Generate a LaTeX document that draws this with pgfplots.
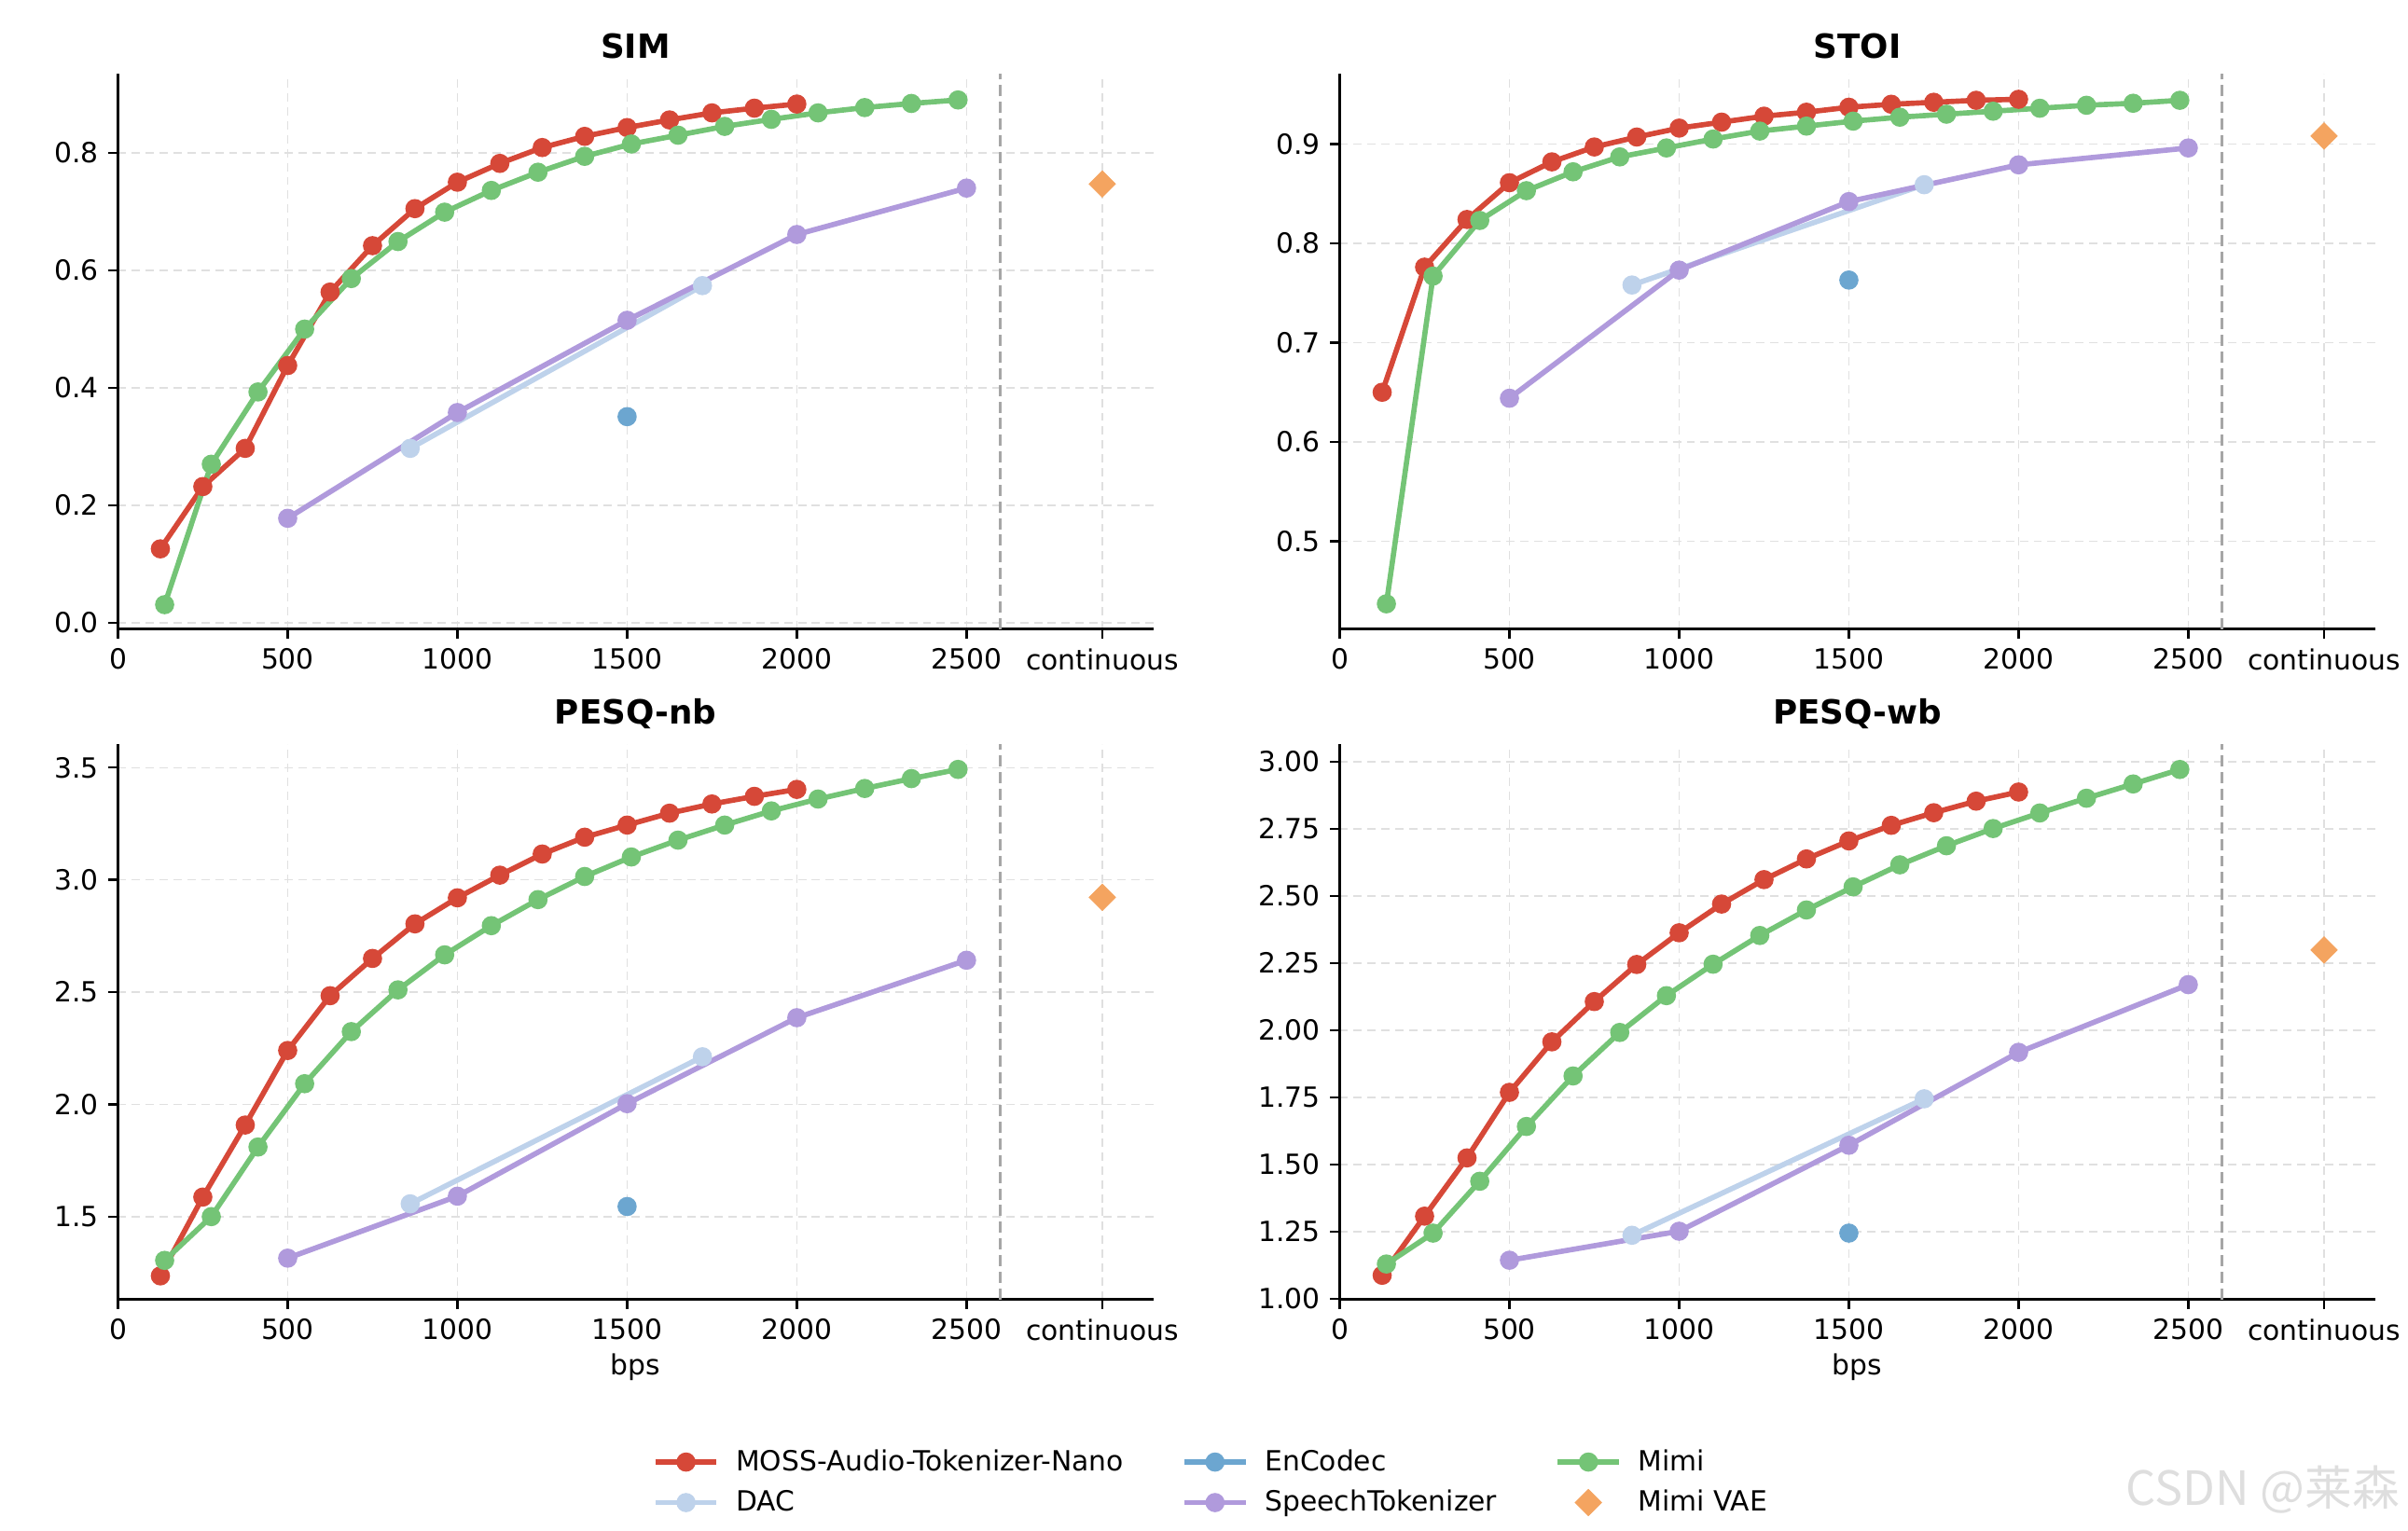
\documentclass[border=0pt]{standalone}
\usepackage{pgfplots}
\pgfplotsset{compat=1.18}
\usepackage{fontspec}
\setmainfont{DejaVu Sans}
\newfontfamily\cjk{Noto Sans CJK SC}
\definecolor{cmoss}{RGB}{214,72,56}
\definecolor{cdac}{RGB}{190,210,235}
\definecolor{cenc}{RGB}{108,166,208}
\definecolor{cst}{RGB}{176,154,220}
\definecolor{cmimi}{RGB}{116,196,118}
\definecolor{cvae}{RGB}{244,164,96}
\tikzset{sepline/.style={black!35, line width=0.9pt, dash pattern=on 4pt off 2pt}}
\pgfplotsset{
  /pgf/number format/assume math mode=true,
  panel/.style={
    scale only axis, width=373pt, height=200pt,
    xmin=0, xmax=3050,
    axis x line*=bottom, axis y line*=left,
    axis line style={-, line width=0.8pt},
    xtick={0,500,1000,1500,2000,2500,2900},
    xticklabels={0,500,1000,1500,2000,2500,continuous},
    tick align=outside, major tick length=3.5pt,
    tick style={line width=0.8pt, black},
    grid=major, major grid style={dash pattern=on 3pt off 2pt, black!12, line width=0.5pt},
    ticklabel style={font=\fontsize{10}{12}\selectfont},
    label style={font=\fontsize{10}{12}\selectfont},
    xlabel style={yshift=2pt},
    title style={font=\bfseries\fontsize{12}{14}\selectfont, yshift=-4pt},
    clip=false,
  },
  moss/.style={color=cmoss, line width=1.9pt, mark=*, mark size=2.5pt, mark options={solid}},
  dac/.style={color=cdac, line width=1.9pt, mark=*, mark size=2.5pt, mark options={solid}},
  enc/.style={color=cenc, line width=1.9pt, mark=*, mark size=2.5pt, mark options={solid}},
  st/.style={color=cst, line width=1.9pt, mark=*, mark size=2.5pt, mark options={solid}},
  mimi/.style={color=cmimi, line width=1.9pt, mark=*, mark size=2.5pt, mark options={solid}},
  vae/.style={color=cvae, only marks, mark=square*, mark size=3.3pt, mark options={solid, rotate=45}},
}
\begin{document}
\begin{tikzpicture}
\useasboundingbox (0,0) rectangle (867.6pt,551.7pt);
% ---------- SIM ----------
\begin{axis}[panel, at={(42.5pt,325pt)}, anchor=south west, title={SIM},
  ymin=-0.0105, ymax=0.934, ytick={0,0.2,0.4,0.6,0.8},
  yticklabel style={/pgf/number format/.cd, fixed, fixed zerofill, precision=1}]
\addplot[moss] coordinates {(125,0.126) (250,0.232) (375,0.297) (500,0.438) (625,0.563) (750,0.642) (875,0.705) (1000,0.750) (1125,0.782) (1250,0.809) (1375,0.828) (1500,0.843) (1625,0.856) (1750,0.868) (1875,0.876) (2000,0.883)};
\addplot[dac] coordinates {(861,0.297) (1722,0.574)};
\addplot[enc] coordinates {(1500,0.351)};
\addplot[st] coordinates {(500,0.178) (1000,0.358) (1500,0.515) (2000,0.661) (2500,0.740)};
\addplot[mimi] coordinates {(137.5,0.031) (275,0.270) (412.5,0.393) (550,0.500) (687.5,0.586) (825,0.649) (962.5,0.699) (1100,0.736) (1237.5,0.767) (1375,0.794) (1512.5,0.815) (1650,0.830) (1787.5,0.845) (1925,0.857) (2062.5,0.868) (2200,0.877) (2337.5,0.884) (2475,0.890)};
\addplot[vae] coordinates {(2900,0.747)};
\draw[sepline] ({axis cs:2600,0}|-{rel axis cs:0,0}) -- ({axis cs:2600,0}|-{rel axis cs:0,1});
\end{axis}
% ---------- STOI ----------
\begin{axis}[panel, at={(482.7pt,325pt)}, anchor=south west, title={STOI},
  ymin=0.4116, ymax=0.9704, ytick={0.5,0.6,0.7,0.8,0.9},
  yticklabel style={/pgf/number format/.cd, fixed, fixed zerofill, precision=1}]
\addplot[moss] coordinates {(125,0.650) (250,0.776) (375,0.824) (500,0.861) (625,0.882) (750,0.897) (875,0.907) (1000,0.916) (1125,0.922) (1250,0.928) (1375,0.932) (1500,0.937) (1625,0.940) (1750,0.942) (1875,0.944) (2000,0.945)};
\addplot[dac] coordinates {(861,0.758) (1722,0.859)};
\addplot[enc] coordinates {(1500,0.763)};
\addplot[st] coordinates {(500,0.644) (1000,0.773) (1500,0.842) (2000,0.879) (2500,0.896)};
\addplot[mimi] coordinates {(137.5,0.437) (275,0.767) (412.5,0.823) (550,0.853) (687.5,0.872) (825,0.887) (962.5,0.896) (1100,0.905) (1237.5,0.913) (1375,0.918) (1512.5,0.923) (1650,0.927) (1787.5,0.930) (1925,0.933) (2062.5,0.936) (2200,0.939) (2337.5,0.941) (2475,0.944)};
\addplot[vae] coordinates {(2900,0.908)};
\draw[sepline] ({axis cs:2600,0.5}|-{rel axis cs:0,0}) -- ({axis cs:2600,0.5}|-{rel axis cs:0,1});
\end{axis}
% ---------- PESQ-nb ----------
\begin{axis}[panel, at={(42.5pt,83.4pt)}, anchor=south west, title={PESQ-nb}, xlabel={bps},
  ymin=1.131, ymax=3.603, ytick={1.5,2.0,2.5,3.0,3.5},
  yticklabel style={/pgf/number format/.cd, fixed, fixed zerofill, precision=1}]
\addplot[moss] coordinates {(125,1.236) (250,1.587) (375,1.908) (500,2.240) (625,2.484) (750,2.650) (875,2.804) (1000,2.920) (1125,3.021) (1250,3.115) (1375,3.190) (1500,3.244) (1625,3.297) (1750,3.338) (1875,3.372) (2000,3.403)};
\addplot[dac] coordinates {(861,1.557) (1722,2.212)};
\addplot[enc] coordinates {(1500,1.545)};
\addplot[st] coordinates {(500,1.315) (1000,1.591) (1500,2.003) (2000,2.386) (2500,2.642)};
\addplot[mimi] coordinates {(137.5,1.305) (275,1.500) (412.5,1.810) (550,2.092) (687.5,2.324) (825,2.510) (962.5,2.666) (1100,2.796) (1237.5,2.912) (1375,3.015) (1512.5,3.102) (1650,3.177) (1787.5,3.244) (1925,3.307) (2062.5,3.360) (2200,3.407) (2337.5,3.451) (2475,3.492)};
\addplot[vae] coordinates {(2900,2.922)};
\draw[sepline] ({axis cs:2600,2}|-{rel axis cs:0,0}) -- ({axis cs:2600,2}|-{rel axis cs:0,1});
\end{axis}
% ---------- PESQ-wb ----------
\begin{axis}[panel, at={(482.7pt,83.4pt)}, anchor=south west, title={PESQ-wb}, xlabel={bps},
  ymin=0.998, ymax=3.064, ytick={1.00,1.25,1.50,1.75,2.00,2.25,2.50,2.75,3.00},
  yticklabel style={/pgf/number format/.cd, fixed, fixed zerofill, precision=2}]
\addplot[moss] coordinates {(125,1.088) (250,1.308) (375,1.525) (500,1.769) (625,1.957) (750,2.107) (875,2.245) (1000,2.363) (1125,2.470) (1250,2.561) (1375,2.638) (1500,2.705) (1625,2.763) (1750,2.810) (1875,2.853) (2000,2.887)};
\addplot[dac] coordinates {(861,1.237) (1722,1.745)};
\addplot[enc] coordinates {(1500,1.245)};
\addplot[st] coordinates {(500,1.144) (1000,1.252) (1500,1.572) (2000,1.918) (2500,2.170)};
\addplot[mimi] coordinates {(137.5,1.130) (275,1.245) (412.5,1.438) (550,1.642) (687.5,1.830) (825,1.992) (962.5,2.129) (1100,2.246) (1237.5,2.353) (1375,2.448) (1512.5,2.534) (1650,2.616) (1787.5,2.687) (1925,2.751) (2062.5,2.809) (2200,2.864) (2337.5,2.917) (2475,2.971)};
\addplot[vae] coordinates {(2900,2.299)};
\draw[sepline] ({axis cs:2600,2}|-{rel axis cs:0,0}) -- ({axis cs:2600,2}|-{rel axis cs:0,1});
\end{axis}
% ---------- Legend ----------
\begin{axis}[hide axis, scale only axis, width=10pt, height=10pt,
  xmin=0, xmax=1, ymin=0, ymax=1,
  at={(437pt,17.5pt)}, anchor=center,
  legend columns=3, legend cell align=left,
  legend image code/.code={\path[draw=none, fill=none] (0pt,-0.1pt) rectangle (27pt,0.1pt);\draw[mark repeat=2, mark phase=2, #1] plot coordinates {(0pt,0pt) (11pt,0pt) (22pt,0pt)};},
  legend style={at={(0.5,0.5)}, anchor=center, draw=none, fill=none,
    font=\fontsize{10}{12}\selectfont, row sep=1.5pt,
    /tikz/every even column/.append style={column sep=19pt}}]
\addlegendimage{moss}\addlegendentry{MOSS-Audio-Tokenizer-Nano}
\addlegendimage{enc}\addlegendentry{EnCodec}
\addlegendimage{mimi}\addlegendentry{Mimi}
\addlegendimage{dac}\addlegendentry{DAC}
\addlegendimage{st}\addlegendentry{SpeechTokenizer}
\addlegendimage{vae}\addlegendentry{Mimi VAE}
\end{axis}
\node[anchor=east, text=black!13, font=\cjk\fontsize{17}{17}\selectfont] at (868pt,14.8pt) {CSDN @莱森};
\end{tikzpicture}
\end{document}
